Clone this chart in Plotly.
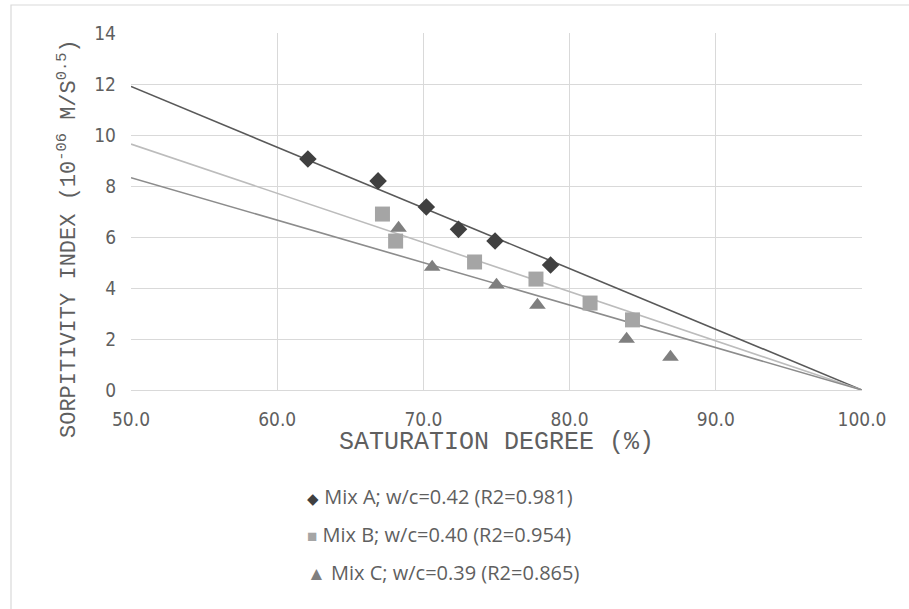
import numpy as np
import plotly.graph_objects as go

# Saturation degree (%) and sorptivity index for each mix
mix_a_sat = [62.1, 66.9, 70.2, 72.4, 74.9, 78.7]
mix_a_sorp = [9.06, 8.20, 7.18, 6.30, 5.84, 4.90]

mix_b_sat = [67.2, 68.1, 73.5, 77.7, 81.4, 84.3]
mix_b_sorp = [6.90, 5.84, 5.02, 4.35, 3.41, 2.75]

mix_c_sat = [68.3, 70.6, 75.0, 77.8, 83.9, 86.9]
mix_c_sorp = [6.35, 4.82, 4.12, 3.33, 2.00, 1.29]

series_names = [
    "Mix A; w/c=0.42 (R2=0.981)",
    "Mix B; w/c=0.40 (R2=0.954)",
    "Mix C; w/c=0.39 (R2=0.865)",
]

x_ticks = [50, 60, 70, 80, 90, 100]
y_ticks = [0, 2, 4, 6, 8, 10, 12, 14]

FULL_SAT = 100.0  # trend lines vanish at full saturation

# plot area in pixels
L, R, T, B = 131, 47, 33, 219
W, H = 909, 609
PW, PH = W - L - R, H - T - B


def px_x(p):
    return (p - L) / PW


def px_y(p):
    return (H - B - p) / PH


def trend(sat, sorp):
    """Least-squares line constrained to pass through (100, 0)."""
    d = FULL_SAT - np.asarray(sat, float)
    s = np.asarray(sorp, float)
    k = float(np.sum(d * s) / np.sum(d * d))
    xs = np.array([x_ticks[0], FULL_SAT])
    return xs, k * (FULL_SAT - xs)


styles = [
    dict(symbol="diamond", size=13.5, color="#404040", line="#595959", glyph="◆", gsize=15),
    dict(symbol="square", size=15, color="#a5a5a5", line="#bcbcbc", glyph="■", gsize=17),
    dict(symbol="triangle-up", size=14.5, color="#7f7f7f", line="#8c8c8c", glyph="▲", gsize=19),
]

fig = go.Figure()

data = [(mix_a_sat, mix_a_sorp), (mix_b_sat, mix_b_sorp), (mix_c_sat, mix_c_sorp)]

for (sat, sorp), st in zip(data, styles):
    tx, ty = trend(sat, sorp)
    fig.add_trace(go.Scatter(
        x=tx, y=ty, mode="lines", showlegend=False, hoverinfo="skip",
        line=dict(color=st["line"], width=1.6),
    ))

for (sat, sorp), st, name in zip(data, styles, series_names):
    fig.add_trace(go.Scatter(
        x=sat, y=sorp, mode="markers", name=name, showlegend=False,
        marker=dict(symbol=st["symbol"], size=st["size"], color=st["color"],
                    line=dict(width=0)),
    ))

tick_font = dict(family="DejaVu Sans Condensed, Liberation Sans",
                 size=19, color="#5f5f5f")
mono = "Liberation Mono, Courier New, monospace"

fig.update_xaxes(
    range=[50, 100], tickvals=x_ticks, ticktext=[f"{v:.1f}" for v in x_ticks],
    showgrid=True, gridcolor="#d9d9d9", gridwidth=1,
    showline=True, linecolor="#d9d9d9", linewidth=1,
    zeroline=False, ticks="", tickfont=tick_font, ticklabelstandoff=12,
)
fig.update_yaxes(
    range=[0, 14], tickvals=y_ticks,
    showgrid=True, gridcolor="#d9d9d9", gridwidth=1,
    showline=False, zeroline=False, ticks="", tickfont=tick_font,
    ticklabelstandoff=14,
)

annotations = [
    dict(text="SATURATION DEGREE (%)", x=px_x(496), y=px_y(443),
         xref="paper", yref="paper", xanchor="center", yanchor="middle",
         showarrow=False, font=dict(family=mono, size=25, color="#5f5f5f")),
    dict(text="SORPITIVITY INDEX (10<sup>-06</sup> M/S<sup>0.5</sup>)",
         x=px_x(68), y=px_y(239), textangle=-90,
         xref="paper", yref="paper", xanchor="center", yanchor="middle",
         showarrow=False, font=dict(family=mono, size=22, color="#5f5f5f")),
]

# legend entries: symbol glyph followed by the series label
for i, (st, name) in enumerate(zip(styles, series_names)):
    annotations.append(dict(
        text=f'<span style="color:{st["color"]};font-size:{st["gsize"]}px">{st["glyph"]}</span> {name}',
        x=px_x(305), y=px_y(496 + 38 * i), xref="paper", yref="paper",
        xanchor="left", yanchor="middle", showarrow=False,
        font=dict(family="Open Sans, Liberation Sans", size=20, color="#5f5f5f"),
    ))

# light outer frame of the chart area
fig.add_shape(type="rect", xref="paper", yref="paper",
              x0=px_x(11), x1=px_x(925), y0=px_y(625), y1=px_y(5),
              line=dict(color="#d9d9d9", width=1.2), fillcolor="rgba(0,0,0,0)",
              layer="below")

fig.update_layout(
    width=W, height=H,
    margin=dict(l=L, r=R, t=T, b=B),
    paper_bgcolor="white", plot_bgcolor="white",
    showlegend=False,
    annotations=annotations,
)

fig.write_html("out.html")
